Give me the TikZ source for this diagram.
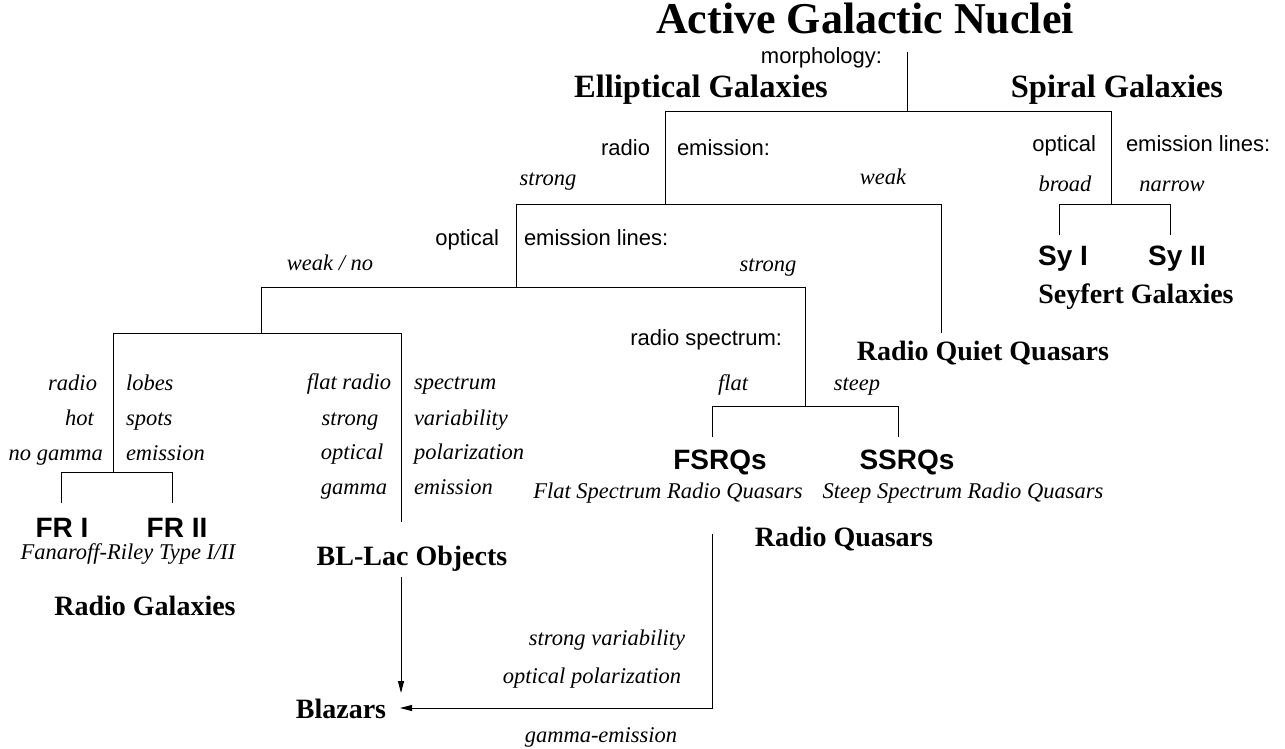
\documentclass[tikz,border=0pt]{standalone}
\usepackage{fontspec}
\setmainfont{Liberation Serif}
\setsansfont{Liberation Sans}
\usetikzlibrary{arrows.meta}
\begin{document}
\begin{tikzpicture}[x=1pt,y=-1pt,
  every node/.style={inner sep=0pt,outer sep=0pt},
  titlef/.style={font=\fontsize{44}{50}\selectfont\bfseries},
  bigf/.style={font=\fontsize{32.5}{38}\selectfont\bfseries},
  clsf/.style={font=\fontsize{28}{32}\selectfont\bfseries},
  abbrf/.style={font=\fontsize{28}{32}\selectfont\sffamily\bfseries},
  critf/.style={font=\fontsize{22}{26}\selectfont\sffamily},
  valf/.style={font=\fontsize{22.5}{26}\selectfont\itshape},
  edge/.style={line width=1pt},
  arr/.style={line width=1pt,-{Triangle[length=12pt,width=6pt]}}]
\useasboundingbox (0,0) rectangle (1285,749);
% ---------- texts ----------
\node[titlef,anchor=base] (agn) at (865,34) {Active Galactic Nuclei};
\node[critf,anchor=mid east] (morph) at (882,61) {morphology:};
\node[bigf,anchor=base] (ell) at (701,98) {Elliptical Galaxies};
\node[bigf,anchor=base] (spi) at (1117,98) {Spiral Galaxies};
\node[critf,anchor=mid east] (radio1) at (650,153) {radio};
\node[critf,anchor=mid west] (emis1) at (677,153) {emission:};
\node[valf,anchor=mid] (strong1) at (548,183) {strong};
\node[valf,anchor=mid] (weak1) at (883,182) {weak};
\node[critf,anchor=mid east] (opt1) at (1096,149) {optical};
\node[critf,anchor=mid west] (eml1) at (1126,149) {emission lines:};
\node[valf,anchor=mid] (broad) at (1065,189) {broad};
\node[valf,anchor=mid] (narrow) at (1172,189) {narrow};
\node[abbrf,anchor=mid] (sy1) at (1063,263) {Sy I};
\node[abbrf,anchor=mid] (sy2) at (1177,263) {Sy II};
\node[clsf,anchor=mid] (sey) at (1136,301) {Seyfert Galaxies};
\node[critf,anchor=mid east] (opt2) at (499,243) {optical};
\node[critf,anchor=mid west] (eml2) at (524,243) {emission lines:};
\node[valf,anchor=mid] (weakno) at (330,268) {weak / no};
\node[valf,anchor=mid] (strong2) at (768,269) {strong};
\node[clsf,anchor=base] (rqqt) at (983,360) {Radio Quiet Quasars};
\node[critf,anchor=mid east] (rspec) at (782,343) {radio spectrum:};
\node[valf,anchor=mid] (flat) at (733,388) {flat};
\node[valf,anchor=mid] (steep) at (857,388) {steep};
\node[abbrf,anchor=mid] (fsrq) at (720,467) {FSRQs};
\node[abbrf,anchor=mid] (ssrq) at (907,467) {SSRQs};
\node[valf,anchor=mid] (fsrql) at (668,496) {Flat Spectrum Radio Quasars};
\node[valf,anchor=mid] (ssrql) at (963,496) {Steep Spectrum Radio Quasars};
\node[clsf,anchor=base] (rq) at (844,546) {Radio Quasars};
% radio galaxies column
\node[valf,anchor=mid east] (l1a) at (97,388) {radio};
\node[valf,anchor=mid west] (l1b) at (126,388) {lobes};
\node[valf,anchor=mid east] (l2a) at (94,423) {hot};
\node[valf,anchor=mid west] (l2b) at (126,423) {spots};
\node[valf,anchor=mid east] (l3a) at (103,458) {no gamma};
\node[valf,anchor=mid west] (l3b) at (126,458) {emission};
\node[abbrf,anchor=mid] (fr1) at (62,535) {FR I};
\node[abbrf,anchor=mid] (fr2) at (177,535) {FR II};
\node[valf,anchor=mid] (frl) at (128,557) {Fanaroff-Riley Type I/II};
\node[clsf,anchor=base] (rg) at (145,615) {Radio Galaxies};
% BL Lac column
\node[valf,anchor=mid] (b1a) at (349,387) {flat radio};
\node[valf,anchor=mid west] (b1b) at (414,387) {spectrum};
\node[valf,anchor=mid] (b2a) at (350,423) {strong};
\node[valf,anchor=mid west] (b2b) at (414,423) {variability};
\node[valf,anchor=mid] (b3a) at (352,457) {optical};
\node[valf,anchor=mid west] (b3b) at (414,457) {polarization};
\node[valf,anchor=mid] (b4a) at (354,492) {gamma};
\node[valf,anchor=mid west] (b4b) at (414,492) {emission};
\node[clsf,anchor=base] (bll) at (412,565) {BL-Lac Objects};
\node[clsf,anchor=base] (blz) at (341,718) {Blazars};
\node[valf,anchor=mid] (p1) at (607,643) {strong variability};
\node[valf,anchor=mid] (p2) at (592,681) {optical polarization};
\node[valf,anchor=mid] (p3) at (601,740) {gamma-emission};
% ---------- junction coordinates ----------
\coordinate (t0) at (907,52);
\coordinate (t1) at (907,112);
\coordinate (v1l) at (665,204);
\coordinate (h1r) at (1111,112);
\coordinate (v1r) at (1111,204);
\coordinate (v2b) at (516,287);
\coordinate (h2b) at (941,204);
\coordinate (rqq) at (941,333);
\coordinate (sy1b) at (1059,235);
\coordinate (sy2t) at (1170,204);
\coordinate (sy2b) at (1170,235);
\coordinate (v3l) at (261,333);
\coordinate (h3b) at (805,287);
\coordinate (rsb) at (805,406);
\coordinate (rgb) at (113,472);
\coordinate (h4b) at (401,333);
\coordinate (blb) at (401,522);
\coordinate (fr1b) at (61,503);
\coordinate (fr2t) at (172,472);
\coordinate (fr2b) at (172,503);
\coordinate (fsb) at (712,437);
\coordinate (sst) at (898,406);
\coordinate (ssb) at (898,437);
\coordinate (ba) at (401,577);
\coordinate (bb) at (401,693);
\coordinate (fq0) at (712,534);
\coordinate (bc) at (400,708);
% ---------- connectors ----------
\draw[edge] (t0) -- (t1);
\draw[edge] (v1l) |- (h1r) -- (v1r);
\draw[edge] (v2b) |- (h2b) -- (rqq);
\draw[edge] (sy1b) |- (sy2t) -- (sy2b);
\draw[edge] (v3l) |- (h3b) -- (rsb);
\draw[edge] (rgb) |- (h4b) -- (blb);
\draw[edge] (fr1b) |- (fr2t) -- (fr2b);
\draw[edge] (fsb) |- (sst) -- (ssb);
\draw[arr] (ba) -- (bb);
\draw[arr] (fq0) |- (bc);
\end{tikzpicture}
\end{document}
